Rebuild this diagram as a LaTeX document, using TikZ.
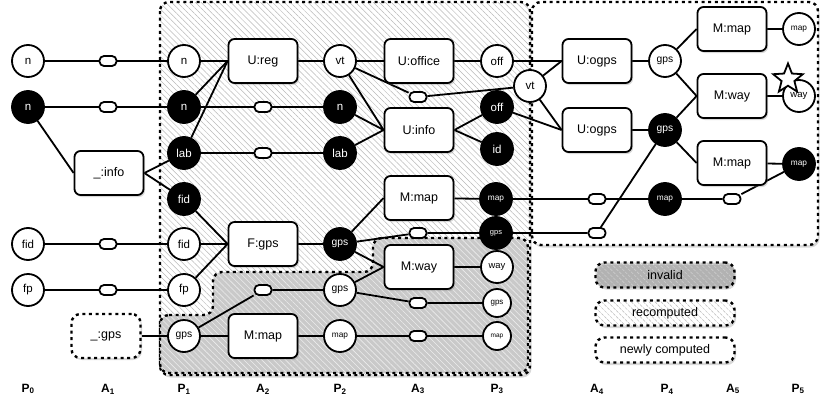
\documentclass[tikz,border=0pt]{standalone}
\usepackage{fontspec}
\setmainfont{Liberation Sans}
\usepackage{tikz}
\usetikzlibrary{shapes,positioning,calc,patterns.meta,shadows}

\pgfdeclarelayer{regions}
\pgfdeclarelayer{edges}
\pgfsetlayers{regions,edges,main}

\tikzset{
  pw/.style={circle,draw,line width=1.8pt,fill=white,minimum size=32pt,inner sep=0pt,
    font=\fontsize{11.5}{12}\selectfont},
  pb/.style={pw,fill=black,text=white},
  sm/.style={font=\fontsize{10.3}{11}\selectfont},
  xs/.style={font=\fontsize{8.3}{9}\selectfont},
  tiny/.style={font=\fontsize{6.5}{7}\selectfont},
  trans/.style={rectangle,rounded corners=6pt,draw,line width=1.8pt,fill=white,
    minimum width=69pt,minimum height=44pt,font=\fontsize{12.5}{14}\selectfont,
    drop shadow={opacity=.3,shadow xshift=1.5pt,shadow yshift=-2pt}},
  cop/.style={rectangle,rounded corners=4.5pt,draw,line width=1.8pt,fill=white,
    minimum width=17pt,minimum height=10pt,inner sep=0pt},
  edge/.style={line width=1.8pt},
  region/.style={draw,line width=2.4pt,dash pattern=on 3pt off 3.6pt,rounded corners=9pt},
  newreg/.style={region,drop shadow={opacity=.3,shadow xshift=1.5pt,shadow yshift=-2.5pt},
    preaction={fill=white}},
  recreg/.style={newreg,preaction={pattern={Lines[angle=-45,distance=4.2pt,line width=.5pt]},
    pattern color=gray!55}},
  invreg/.style={region,preaction={fill=gray!42},
    preaction={pattern={Lines[angle=-45,distance=4.2pt,line width=.6pt]},pattern color=white!85!gray}},
  step label/.style={font=\fontsize{12}{13}\bfseries}
}

\begin{document}
\begin{tikzpicture}[x=1pt,y=-1pt]
  \useasboundingbox (0,0) rectangle (820,407);
  % regions
  \begin{pgfonlayer}{regions}
    \path[recreg] (160,2) rectangle (530,375);
    \path[invreg] (160,315) -- (213,315) -- (213,272) -- (373,272) -- (373,238)
      -- (528,238) -- (528,373) -- (160,373) -- cycle;
    \path[newreg] (532,2) rectangle (818,245);
  \end{pgfonlayer}

  % P0 and A1
  \node[pw] (n0) at (28,61) {n};
  \node[pb] (nb0) at (28,107) {n};
  \node[pw] (fid0) at (28,244) {fid};
  \node[pw] (fp0) at (28,290) {fp};
  \node[cop] (c1a) at (108,61) {};
  \node[cop] (c1b) at (108,107) {};
  \node[cop] (c1c) at (108,244) {};
  \node[cop] (c1d) at (108,290) {};
  \node[trans] (info) at (109,173) {\_:info};
  \node[trans,region,fill=white] (gpsin) at (106,336) {\_:gps};

  % P1 and A2
  \node[pw] (n1) at (184,61) {n};
  \node[pb] (nb1) at (184,107) {n};
  \node[pb] (lab1) at (184,153) {lab};
  \node[pb] (fidb1) at (184,199) {fid};
  \node[pw] (fid1) at (184,244) {fid};
  \node[pw] (fp1) at (184,290) {fp};
  \node[pw,sm] (gps1) at (184,336) {gps};
  \node[trans] (reg) at (263,61) {U:reg};
  \node[cop] (c2a) at (263,107) {};
  \node[cop] (c2b) at (263,153) {};
  \node[trans] (fgps) at (263,244) {F:gps};
  \node[cop] (c2c) at (263,290) {};
  \node[trans] (mmap2) at (263,336) {M:map};

  % P2 and A3
  \node[pw] (vt2) at (340,61) {vt};
  \node[pb] (nb2) at (340,107) {n};
  \node[pb] (lab2) at (340,153) {lab};
  \node[pb,sm] (gpsb2) at (340,244) {gps};
  \node[pw,sm] (gps2) at (340,290) {gps};
  \node[pw,xs] (map2) at (340,336) {map};
  \node[trans] (office) at (419,61) {U:office};
  \node[cop] (c3a) at (418,97) {};
  \node[trans] (uinfo) at (419,130) {U:info};
  \node[trans] (mmap3) at (419,198) {M:map};
  \node[cop] (c3b) at (418,233) {};
  \node[trans] (mway3) at (419,267) {M:way};
  \node[cop] (c3c) at (418,303) {};
  \node[cop] (c3d) at (418,336) {};

  % P3 and A4
  \node[pw] (off3) at (497,61) {off};
  \node[pb] (offb3) at (497,107) {off};
  \node[pb] (id3) at (497,149) {id};
  \node[pb,xs] (mapb3) at (496,199) {map};
  \node[pb,font=\fontsize{7.5}{8}\selectfont] (gpsb3) at (496,233) {gps};
  \node[pw,font=\fontsize{9.4}{10}\selectfont] (way3) at (497,267) {way};
  \node[pw,minimum size=28pt,font=\fontsize{8}{9}\selectfont] (gps3) at (497,303) {gps};
  \node[pw,minimum size=28pt,tiny] (map3) at (497,336) {map};
  \node[pw] (vt3) at (530,86) {vt};
  \node[trans] (ogps1) at (597,61) {U:ogps};
  \node[trans] (ogps2) at (597,130) {U:ogps};
  \node[cop] (c4a) at (597,199) {};
  \node[cop] (c4b) at (597,233) {};

  % P4, A5 and P5
  \node[pw,sm] (gps4) at (665,61) {gps};
  \node[pb,sm] (gpsb4) at (665,130) {gps};
  \node[pb,xs] (mapb4) at (665,199) {map};
  \node[trans] (mmap5a) at (732,29) {M:map};
  \node[trans] (mway5) at (732,96) {M:way};
  \node[trans] (mmap5b) at (732,163) {M:map};
  \node[cop] (c5) at (732,199) {};
  \node[pw,xs] (map5) at (799,29) {map};
  \node[pw,font=\fontsize{9.6}{10}\selectfont] (way5) at (799,96) {way};
  \node[pb,xs] (mapb5) at (799,164) {map};
  \node[star,star points=5,star point ratio=2.3,draw,line width=1.8pt,fill=white,
    minimum size=31pt,inner sep=0pt] (mark) at (788,79) {};

  % legend
  \node[invreg,minimum width=139pt,minimum height=25pt,font=\fontsize{12.5}{14}\selectfont,
    drop shadow={opacity=.3,shadow xshift=1.5pt,shadow yshift=-2pt}]
    (leginv) at (665,275) {invalid};
  \node[recreg,minimum width=139pt,minimum height=25pt,font=\fontsize{12.5}{14}\selectfont]
    (legrec) at (665,313) {recomputed};
  \node[newreg,minimum width=139pt,minimum height=25pt,font=\fontsize{12.5}{14}\selectfont]
    (legnew) at (665,350) {newly computed};

  % step labels
  \node[step label] (s0) at (28,389) {P\textsubscript{0}};
  \node[step label] (s1) at (108,389) {A\textsubscript{1}};
  \node[step label] (s2) at (184,389) {P\textsubscript{1}};
  \node[step label] (s3) at (263,389) {A\textsubscript{2}};
  \node[step label] (s4) at (340,389) {P\textsubscript{2}};
  \node[step label] (s5) at (418,389) {A\textsubscript{3}};
  \node[step label] (s6) at (497,389) {P\textsubscript{3}};
  \node[step label] (s7) at (597,389) {A\textsubscript{4}};
  \node[step label] (s8) at (667,389) {P\textsubscript{4}};
  \node[step label] (s9) at (733,389) {A\textsubscript{5}};
  \node[step label] (s10) at (798,389) {P\textsubscript{5}};

  % connectors
  \begin{pgfonlayer}{edges}
    \draw[edge] (n0) -- (c1a) -- (n1);
    \draw[edge] (nb0) -- (c1b) -- (nb1);
    \draw[edge] (nb0) -- (info.west);
    \draw[edge] (info.east) -- (lab1);
    \draw[edge] (info.east) -- (fidb1);
    \draw[edge] (fid0) -- (c1c) -- (fid1);
    \draw[edge] (fp0) -- (c1d) -- (fp1);
    \draw[edge] (gpsin) -- (gps1);
    \draw[edge] (n1) -- (reg.west);
    \draw[edge] (nb1) -- (reg.west);
    \draw[edge] (lab1) -- (reg.west);
    \draw[edge] (nb1) -- (c2a) -- (nb2);
    \draw[edge] (lab1) -- (c2b) -- (lab2);
    \draw[edge] (reg) -- (vt2);
    \draw[edge] (fidb1) -- (fgps.west);
    \draw[edge] (fid1) -- (fgps.west);
    \draw[edge] (fp1) -- (fgps.west);
    \draw[edge] (fgps) -- (gpsb2);
    \draw[edge] (gps1) -- (c2c) -- (gps2);
    \draw[edge] (gps1) -- (mmap2) -- (map2);
    \draw[edge] (vt2) -- (office) -- (off3);
    \draw[edge] (vt2) -- (uinfo.west);
    \draw[edge] (nb2) -- (uinfo.west);
    \draw[edge] (lab2) -- (uinfo.west);
    \draw[edge] (vt2) -- (c3a) -- (vt3);
    \draw[edge] (uinfo.east) -- (offb3);
    \draw[edge] (uinfo.east) -- (id3);
    \draw[edge] (gpsb2) -- (mmap3.west);
    \draw[edge] (gpsb2) -- (c3b) -- (gpsb3);
    \draw[edge] (gpsb2) -- (mway3.west);
    \draw[edge] (gps2) -- (mway3.west);
    \draw[edge] (gps2) -- (c3c) -- (gps3);
    \draw[edge] (map2) -- (c3d) -- (map3);
    \draw[edge] (mmap3) -- (mapb3);
    \draw[edge] (mway3) -- (way3);
    \draw[edge] (off3) -- (ogps1.west);
    \draw[edge] (vt3) -- (ogps1.west);
    \draw[edge] (vt3) -- (ogps2.west);
    \draw[edge] (offb3) -- (ogps2.west);
    \draw[edge] (mapb3) -- (c4a) -- (mapb4);
    \draw[edge] (gpsb3) -- (c4b) -- (gpsb4);
    \draw[edge] (ogps1) -- (gps4);
    \draw[edge] (ogps2) -- (gpsb4);
    \draw[edge] (gps4) -- (mmap5a.west);
    \draw[edge] (gps4) -- (mway5.west);
    \draw[edge] (gpsb4) -- (mway5.west);
    \draw[edge] (gpsb4) -- (mmap5b.west);
    \draw[edge] (mapb4) -- (c5) -- (mapb5);
    \draw[edge] (mmap5a) -- (map5);
    \draw[edge] (mway5) -- (way5);
    \draw[edge] (mmap5b) -- (mapb5);
  \end{pgfonlayer}
\end{tikzpicture}
\end{document}
